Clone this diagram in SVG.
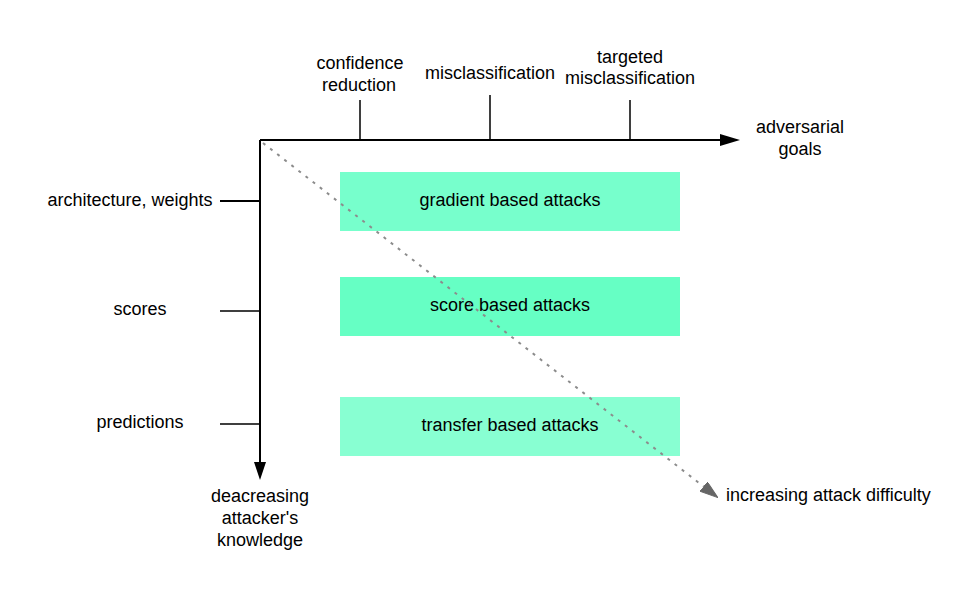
<svg xmlns="http://www.w3.org/2000/svg" width="971" height="600" viewBox="0 0 971 600">
<style>
text{font-family:"Liberation Sans",Arial,sans-serif;font-size:18px;fill:#000;text-anchor:middle}
.ax{stroke:#000;stroke-width:2;fill:none}
.tk{stroke:#000;stroke-width:1.5;fill:none}
</style>
<defs>
<marker id="ahg" markerWidth="18" markerHeight="12" refX="17" refY="6" orient="auto" markerUnits="userSpaceOnUse" viewBox="0 0 18 12">
<path d="M0,0 L18,6 L0,12 Z" fill="#666" stroke="#666"/>
</marker>
</defs>
<rect width="971" height="600" fill="#fff"/>
<g id="gradient"><rect x="340" y="172" width="340" height="59" fill="#77FFCC"/><text x="510" y="206">gradient based attacks</text></g>
<g id="score"><rect x="340" y="277" width="340" height="59" fill="#66FFC4"/><text x="510" y="311">score based attacks</text></g>
<g id="transfer"><rect x="340" y="397" width="340" height="59" fill="#88FFD2"/><text x="510" y="431">transfer based attacks</text></g>
<g id="connectors">
<path class="ax" d="M260,140 H722"/>
<path d="M720,134 L740,140 L720,146 Z" fill="#000"/>
<path class="ax" d="M260,140 V462"/>
<path d="M254,462 L260,480 L266,462 Z" fill="#000"/>
<path class="tk" d="M360,100 V140 M490,95 V140 M630,100 V140"/>
<path class="ax" d="M220,201 H260"/>
<path class="tk" d="M220,311 H260 M220,424 H260"/>
<path d="M263,143 L717,497" stroke="#8c8c8c" stroke-width="2" stroke-dasharray="3,6" fill="none" marker-end="url(#ahg)"/>
</g>
<g id="labels">
<text x="360" y="69">confidence</text><text x="359" y="91">reduction</text>
<text x="490" y="79">misclassification</text>
<text x="630" y="63">targeted</text><text x="630" y="84">misclassification</text>
<text x="800" y="133">adversarial</text><text x="800" y="155">goals</text>
<text x="130" y="206">architecture, weights</text>
<text x="140" y="315">scores</text>
<text x="140" y="428">predictions</text>
<text x="260" y="502">deacreasing</text><text x="260" y="524">attacker's</text><text x="260" y="546">knowledge</text>
<text x="726" y="501" style="text-anchor:start">increasing attack difficulty</text>
</g>
</svg>
